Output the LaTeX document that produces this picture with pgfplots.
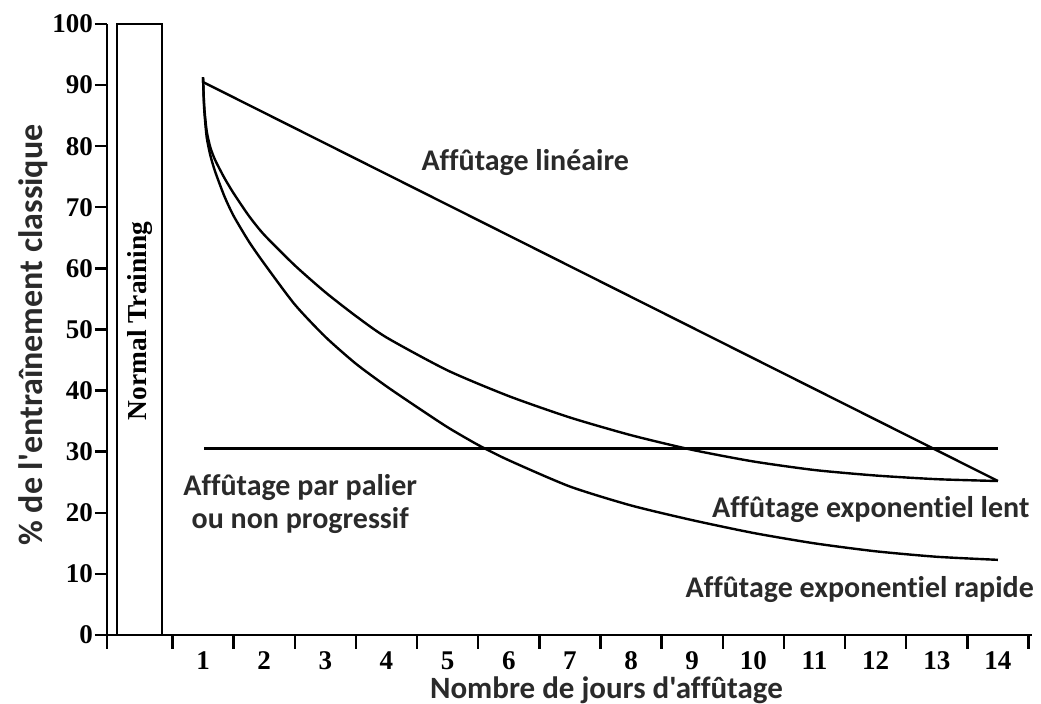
\documentclass[border=0pt]{standalone}
\usepackage{fontspec}
\setmainfont{Carlito}[Ligatures={TeXOff,NoCommon}]
\newfontfamily\tnr{Liberation Serif}
\usepackage{pgfplots}
\pgfplotsset{compat=1.18}
\definecolor{txt}{HTML}{2A2A2A}

\begin{document}
\begin{tikzpicture}
\begin{axis}[
  scale only axis, width=462.5pt, height=305.5pt,
  xmin=-0.57, xmax=14.557, ymin=0, ymax=100,
  axis x line=bottom, axis y line=left,
  axis line style={line width=1.3pt, -},
  clip=false,
  tick align=outside,
  xtick={1,...,14},
  minor xtick={-0.57,0.5,1.5,...,14.5},
  major x tick style={draw=none},
  minor x tick style={line width=1.2pt, black},
  minor tick length=7pt,
  ytick={0,10,...,100},
  major y tick style={line width=1.2pt, black},
  major tick length=6pt,
  ticklabel style={font=\tnr\bfseries\fontsize{13.5}{13.5}\selectfont, text=black},
  yticklabel style={xshift=2.5pt},
  xticklabel style={yshift=2pt, text height=9.5pt, text depth=0pt},
  /pgf/number format/assume math mode=true,
  xlabel={Nombre de jours d'affûtage},
  xlabel style={at={(axis description cs:0.54,-0.091)}, anchor=center, font=\bfseries\fontsize{15.5}{15.5}\selectfont, text=txt},
  ylabel={\% de l'entraînement classique},
  ylabel style={at={(axis description cs:-0.08,0.491)}, anchor=center, font=\bfseries\fontsize{17}{17}\selectfont, text=txt},
]
% Normal training bar
\addplot[black, line width=1.2pt] coordinates {(-0.406,0) (-0.406,100) (0.33,100) (0.33,0)};
% linear taper
\addplot[black, line width=1.2pt] coordinates {(1,90.5) (14,25.2)};
% step taper
\addplot[black, line width=1.4pt] coordinates {(1.02,30.5) (14,30.5)};
% slow exponential
\addplot[black, line width=1.2pt, smooth, tension=0.4] coordinates {
(1,91.3) (1.02,86.5) (1.06,82.5) (1.12,79.8) (1.2,77.7) (1.35,74.8) (1.5,72.3) (1.75,68.6) (2,65.5)
(2.5,60.5) (3,56.1) (3.5,52.2) (4,48.7) (5,43.3) (6,39.1) (7,35.6) (8,32.7)
(9,30.3) (10,28.4) (11,27.0) (12,26.1) (13,25.5) (14,25.2)};
% fast exponential
\addplot[black, line width=1.2pt, smooth, tension=0.4] coordinates {
(1,91.3) (1.02,86) (1.06,81.5) (1.12,78.5) (1.2,75.8) (1.35,71.8) (1.5,68.6) (1.75,64.4) (2,60.8)
(2.5,54.1) (3,48.8) (3.5,44.4) (4,40.7) (4.5,37.3) (5,34.0) (5.5,31.1) (6,28.6)
(7,24.3) (8,21.2) (9,18.8) (10,16.7) (11,15.0) (12,13.7) (13,12.8) (14,12.3)};
% annotations
\node[font=\bfseries\fontsize{15}{16.5}\selectfont, text=txt] at (axis cs:6.27,77.3) {Affûtage linéaire};
\node[font=\bfseries\fontsize{15}{16.5}\selectfont, text=txt, align=center] at (axis cs:2.59,21.5) {Affûtage par palier\\ou non progressif};
\node[font=\bfseries\fontsize{15}{16.5}\selectfont, text=txt] at (axis cs:11.92,20.5) {Affûtage exponentiel lent};
\node[font=\bfseries\fontsize{15}{16.5}\selectfont, text=txt] at (axis cs:11.74,7.4) {Affûtage exponentiel rapide};
\node[font=\tnr\bfseries\fontsize{13.7}{13.7}\selectfont, rotate=90] at (axis cs:-0.03,51.4) {Normal Training};
\end{axis}
\pgfresetboundingbox
\path[use as bounding box] ([xshift=-53.5pt,yshift=-34.5pt]current axis.south west) rectangle ([xshift=4.5pt,yshift=12pt]current axis.north east);
\end{tikzpicture}
\end{document}
